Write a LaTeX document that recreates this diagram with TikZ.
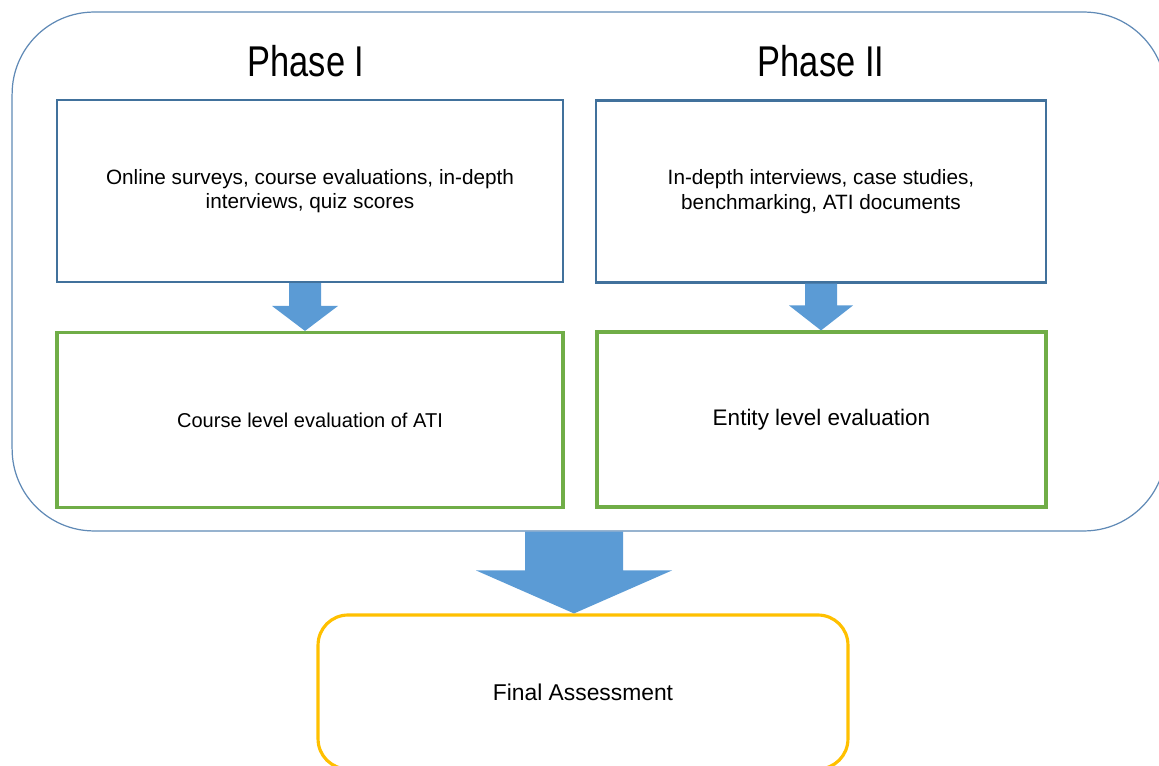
\documentclass[tikz,border=0pt]{standalone}
\usepackage{fontspec}
\setmainfont{Liberation Sans}
\newfontfamily\phasefont[FakeStretch=0.8]{Liberation Sans}
\usetikzlibrary{calc}
\definecolor{outerblue}{RGB}{96,138,182}
\definecolor{boxblue}{RGB}{65,113,156}
\definecolor{evalgreen}{RGB}{112,173,71}
\definecolor{finalgold}{RGB}{255,192,0}
\definecolor{arrowblue}{RGB}{91,155,213}
% block arrow: [xshift]{top}{tip}{shaft half}{head half}{head length}
\newcommand\blockarrow[6][0]{%
\fill[arrowblue] ($(#2)+(#1,0)+(-#4,0)$) -- ($(#2 |- #3)+(#1,0)+(-#4,-#6)$)
  -- ($(#2 |- #3)+(#1,0)+(-#5,-#6)$) -- ($(#2 |- #3)+(#1,0)$)
  -- ($(#2 |- #3)+(#1,0)+(#5,-#6)$) -- ($(#2 |- #3)+(#1,0)+(#4,-#6)$)
  -- ($(#2)+(#1,0)+(#4,0)$) -- cycle;
}

\begin{document}
\begin{tikzpicture}[x=0.02cm,y=-0.02cm,every node/.style={inner sep=0pt,align=center},
  sourcebox/.style={draw=boxblue,line width=1.3pt,minimum height=3.64cm,font=\fontsize{11.8}{14}\selectfont},
  evalbox/.style={draw=evalgreen,line width=1.8pt,minimum height=3.5cm},
  phaselabel/.style={font=\phasefont\fontsize{24.5}{28}\selectfont}]
	%% canvas
	\useasboundingbox (0,0) rectangle (1159,766);
	\clip (0,0) rectangle (1159,766);

	% the two phases
	\node[draw=outerblue,line width=0.7pt,rounded corners=1.64cm,
	      minimum width=23.08cm,minimum height=10.38cm] (phases) at (589,271.5) {};

	\node[phaselabel] (ph1label) at (306,61) {Phase I};
	\node[phaselabel] (ph2label) at (821,61) {Phase II};

	\node[sourcebox,minimum width=10.12cm] (ph1) at (310,191)
	  {Online surveys, course evaluations, in-depth\\interviews, quiz scores};
	\node[sourcebox,minimum width=9cm] (ph2) at (821,191.5)
	  {In-depth interviews, case studies,\\benchmarking, ATI documents};

	\node[evalbox,minimum width=10.12cm,font=\fontsize{11.4}{14}\selectfont] (ev1) at (310,420)
	  {Course level evaluation of ATI};
	\node[evalbox,minimum width=8.98cm,font=\fontsize{12.8}{15}\selectfont] (ev2) at (821.5,419.5)
	  {Entity level evaluation};

	% result
	\node[draw=finalgold,line width=1.8pt,rounded corners=0.6cm,
	      minimum width=10.6cm,minimum height=3.08cm,font=\fontsize{13}{15}\selectfont] (final) at (583,692)
	  {Final Assessment};

	\blockarrow[-5]{ph1.south}{ev1.north}{16}{33}{25}
	\blockarrow{ph2.south}{ev2.north}{16}{32}{25}
	\blockarrow[-9]{final.north |- phases.south}{final.north}{49}{98}{43}
\end{tikzpicture}
\end{document}
